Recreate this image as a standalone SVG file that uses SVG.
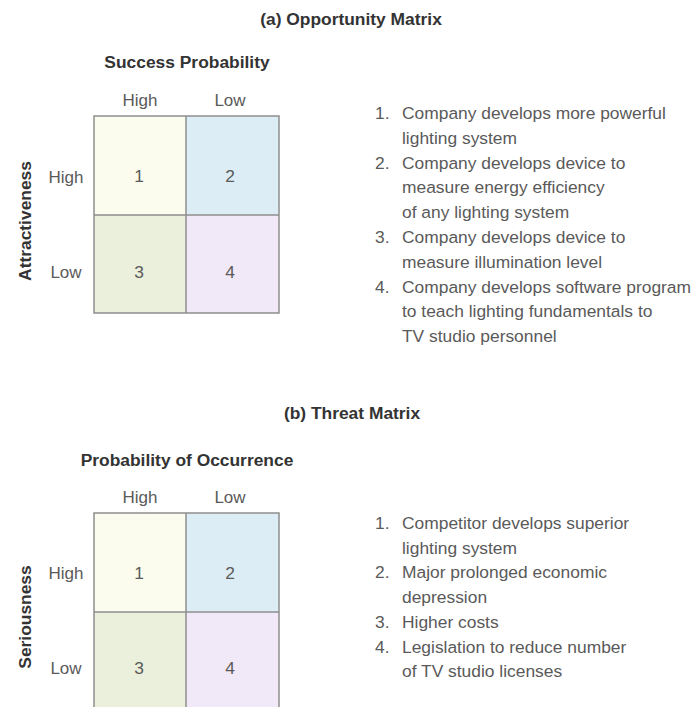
<svg xmlns="http://www.w3.org/2000/svg" width="695" height="707" viewBox="0 0 695 707">
  <style>
    .title { font-family: "Liberation Sans", Arial, sans-serif; font-size: 17.4px; font-weight: bold; fill: #333333; }
    .lbl { font-family: "Liberation Sans", Arial, sans-serif; font-size: 17px; fill: #5a5a5a; }
    .item { font-family: "Liberation Sans", Arial, sans-serif; font-size: 17.4px; fill: #5a5a5a; }
    .mid { text-anchor: middle; }
    .grid { fill: none; stroke: #8e8e8e; stroke-width: 1.5; }
    .c1 { fill: #fbfbee; }
    .c2 { fill: #dcedf5; }
    .c3 { fill: #eaf0dc; }
    .c4 { fill: #f1e9f8; }
  </style>
  <rect width="695" height="707" fill="#ffffff"/>

  <!-- (a) Opportunity matrix -->
  <g id="opportunity-title">
    <text class="title mid" x="351" y="25">(a) Opportunity Matrix</text>
  </g>
  <g id="opportunity-axes">
    <text class="title mid" x="187" y="68">Success Probability</text>
    <text class="lbl mid" x="140" y="106">High</text>
    <text class="lbl mid" x="230" y="106">Low</text>
    <text class="title mid" transform="translate(31,221) rotate(-90)">Attractiveness</text>
    <text class="lbl mid" x="66" y="183">High</text>
    <text class="lbl mid" x="66" y="278">Low</text>
  </g>
  <g id="opportunity-matrix">
    <rect class="c1" x="94" y="116" width="92" height="99"/>
    <rect class="c2" x="186" y="116" width="93" height="99"/>
    <rect class="c3" x="94" y="215" width="92" height="98"/>
    <rect class="c4" x="186" y="215" width="93" height="98"/>
    <rect class="grid" x="94" y="116" width="185" height="197"/>
    <line class="grid" x1="186" y1="116" x2="186" y2="313"/>
    <line class="grid" x1="94" y1="215" x2="279" y2="215"/>
    <text class="item mid" x="139" y="182">1</text>
    <text class="item mid" x="230" y="182">2</text>
    <text class="item mid" x="139" y="278">3</text>
    <text class="item mid" x="230" y="278">4</text>
  </g>
  <g id="opportunity-list">
    <text class="item" x="375" y="119">1.</text>
    <text class="item" x="402" y="119">Company develops more powerful</text>
    <text class="item" x="402" y="143.8">lighting system</text>
    <text class="item" x="375" y="168.6">2.</text>
    <text class="item" x="402" y="168.6">Company develops device to</text>
    <text class="item" x="402" y="193.4">measure energy efficiency</text>
    <text class="item" x="402" y="218.2">of any lighting system</text>
    <text class="item" x="375" y="243">3.</text>
    <text class="item" x="402" y="243">Company develops device to</text>
    <text class="item" x="402" y="267.8">measure illumination level</text>
    <text class="item" x="375" y="292.6">4.</text>
    <text class="item" x="402" y="292.6">Company develops software program</text>
    <text class="item" x="402" y="317.4">to teach lighting fundamentals to</text>
    <text class="item" x="402" y="342.2">TV studio personnel</text>
  </g>

  <!-- (b) Threat matrix -->
  <g id="threat-title">
    <text class="title mid" x="352" y="419">(b) Threat Matrix</text>
  </g>
  <g id="threat-axes">
    <text class="title mid" x="187" y="466">Probability of Occurrence</text>
    <text class="lbl mid" x="140" y="503">High</text>
    <text class="lbl mid" x="230" y="503">Low</text>
    <text class="title mid" transform="translate(31,617) rotate(-90)">Seriousness</text>
    <text class="lbl mid" x="66" y="579">High</text>
    <text class="lbl mid" x="66" y="674">Low</text>
  </g>
  <g id="threat-matrix">
    <rect class="c1" x="94" y="513" width="92" height="99"/>
    <rect class="c2" x="186" y="513" width="93" height="99"/>
    <rect class="c3" x="94" y="612" width="92" height="99"/>
    <rect class="c4" x="186" y="612" width="93" height="99"/>
    <rect class="grid" x="94" y="513" width="185" height="198"/>
    <line class="grid" x1="186" y1="513" x2="186" y2="711"/>
    <line class="grid" x1="94" y1="612" x2="279" y2="612"/>
    <text class="item mid" x="139" y="579">1</text>
    <text class="item mid" x="230" y="579">2</text>
    <text class="item mid" x="139" y="674">3</text>
    <text class="item mid" x="230" y="674">4</text>
  </g>
  <g id="threat-list">
    <text class="item" x="375" y="529">1.</text>
    <text class="item" x="402" y="529">Competitor develops superior</text>
    <text class="item" x="402" y="553.7">lighting system</text>
    <text class="item" x="375" y="578.4">2.</text>
    <text class="item" x="402" y="578.4">Major prolonged economic</text>
    <text class="item" x="402" y="603.1">depression</text>
    <text class="item" x="375" y="627.8">3.</text>
    <text class="item" x="402" y="627.8">Higher costs</text>
    <text class="item" x="375" y="652.5">4.</text>
    <text class="item" x="402" y="652.5">Legislation to reduce number</text>
    <text class="item" x="402" y="677.2">of TV studio licenses</text>
  </g>

  <!-- no connectors in this figure -->
  <g id="connectors"/>
</svg>
